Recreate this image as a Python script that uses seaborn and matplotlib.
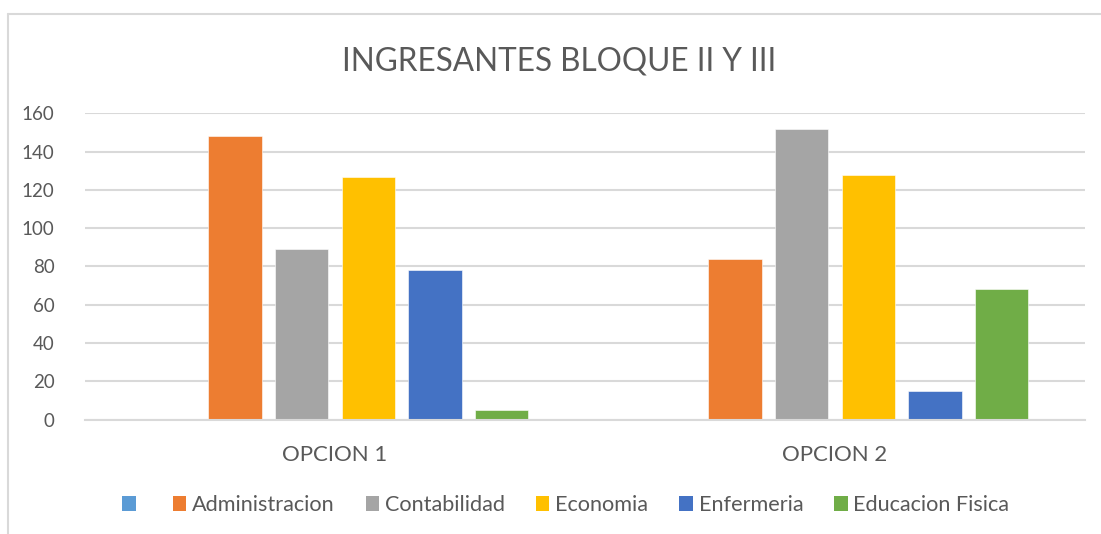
import pandas as pd
import matplotlib
matplotlib.use('Agg')
import matplotlib.pyplot as plt
import seaborn as sns
from matplotlib.patches import Patch
from matplotlib.lines import Line2D

# ── Data ──────────────────────────────────────────────────────────────────────
opciones = ['OPCION 1', 'OPCION 2']
carreras = [' ', 'Administracion', 'Contabilidad', 'Economia', 'Enfermeria', 'Educacion Fisica']
blank = [0, 0]
administracion = [148, 84]
contabilidad = [89, 152]
economia = [127, 128]
enfermeria = [78, 15]
educacion_fisica = [5, 68]
colores = ['#5B9BD5', '#ED7D31', '#A5A5A5', '#FFC000', '#4472C4', '#70AD47']

series = [blank, administracion, contabilidad, economia, enfermeria, educacion_fisica]
rows = []
for carrera, vals in zip(carreras, series):
    for op, v in zip(opciones, vals):
        rows.append({'Opcion': op, 'Carrera': carrera, 'Valor': v})
df = pd.DataFrame(rows)

# ── Plot ──────────────────────────────────────────────────────────────────────
sns.set_style('white')
plt.rcParams['font.family'] = ['Lato', 'DejaVu Sans']
text_color = '#595959'
grid_color = '#D9D9D9'

fig = plt.figure(figsize=(11.01, 5.34), dpi=100)
ax = fig.add_axes([0.0772, 0.2144, 0.9083, 0.5731])

sns.barplot(
    data=df, x='Opcion', y='Valor', hue='Carrera',
    order=opciones, hue_order=carreras, palette=colores,
    width=0.8, gap=0.2, saturation=1, legend=False, ax=ax,
    edgecolor='white', linewidth=0.4
)

ax.set_ylim(0, 160)
ax.set_xlim(-0.5, 1.5)
ax.set_yticks(range(0, 161, 20))
ax.yaxis.grid(True, color=grid_color, linewidth=1.5)
ax.set_axisbelow(True)
for side in ['top', 'right', 'left']:
    ax.spines[side].set_visible(False)
ax.spines['bottom'].set_color(grid_color)
ax.spines['bottom'].set_linewidth(1.5)
ax.set_xlabel('')
ax.set_ylabel('')
ax.tick_params(axis='both', length=0, colors=text_color)
ax.tick_params(axis='y', labelsize=13.5, pad=22)
ax.tick_params(axis='x', labelsize=16, pad=18)

fig.text(0.508, 0.885, 'INGRESANTES BLOQUE II Y III', ha='center', va='center',
         fontsize=22.7, color=text_color)

handles = [Patch(facecolor=c, edgecolor='none') for c in colores]
labels = [c.strip() for c in carreras]
fig.legend(handles, labels, loc='center', bbox_to_anchor=(0.514, 0.054), ncol=6,
           frameon=False, fontsize=15.6, labelcolor=text_color,
           handlelength=0.63, handleheight=0.63, handletextpad=0.27, columnspacing=1.42)

# chart border (left and top edges)
fig.add_artist(Line2D([0.0077, 0.0077], [0, 0.973], color=grid_color, linewidth=1.5,
                      transform=fig.transFigure))
fig.add_artist(Line2D([0.0077, 1.0], [0.973, 0.973], color=grid_color, linewidth=1.5,
                      transform=fig.transFigure))

fig.savefig('out.png', dpi=100)
